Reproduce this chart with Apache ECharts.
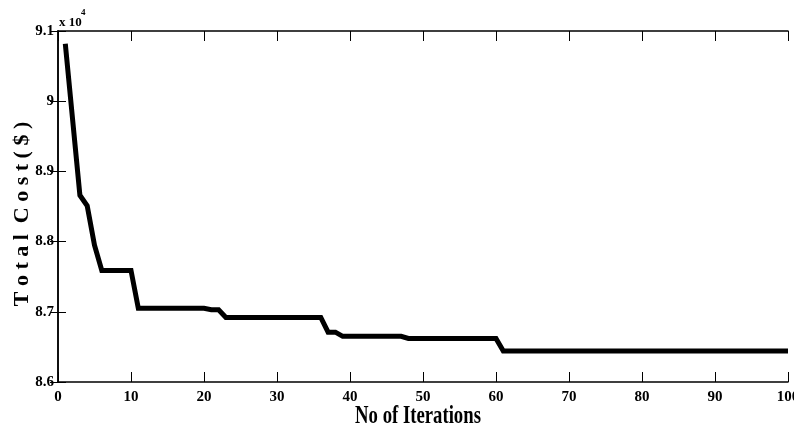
<!DOCTYPE html>
<html>
<head>
<meta charset="utf-8">
<script src="https://cdn.jsdelivr.net/npm/echarts@6/dist/echarts.min.js"></script>
<style>html,body{margin:0;padding:0;background:#fff;overflow:hidden}#c{width:794px;height:432px}</style>
</head>
<body>
<div id="c"></div>
<script>
// Iteration numbers and total cost (x 10^4 $)
var iterations = [];
for (var i = 1; i <= 100; i++) iterations.push(i);
var costValues = [
  9.082, 8.974, 8.866, 8.851, 8.795, 8.759, 8.759, 8.759, 8.759, 8.759,
  8.705, 8.705, 8.705, 8.705, 8.705, 8.705, 8.705, 8.705, 8.705, 8.705,
  8.703, 8.703, 8.692, 8.692, 8.692, 8.692, 8.692, 8.692, 8.692, 8.692,
  8.692, 8.692, 8.692, 8.692, 8.692, 8.692, 8.671, 8.671, 8.665, 8.665,
  8.665, 8.665, 8.665, 8.665, 8.665, 8.665, 8.665, 8.662, 8.662, 8.662,
  8.662, 8.662, 8.662, 8.662, 8.662, 8.662, 8.662, 8.662, 8.662, 8.662,
  8.644, 8.644, 8.644, 8.644, 8.644, 8.644, 8.644, 8.644, 8.644, 8.644,
  8.644, 8.644, 8.644, 8.644, 8.644, 8.644, 8.644, 8.644, 8.644, 8.644,
  8.644, 8.644, 8.644, 8.644, 8.644, 8.644, 8.644, 8.644, 8.644, 8.644,
  8.644, 8.644, 8.644, 8.644, 8.644, 8.644, 8.644, 8.644, 8.644, 8.644
];
var xTicks = [0, 10, 20, 30, 40, 50, 60, 70, 80, 90, 100];
var yTicks = [8.6, 8.7, 8.8, 8.9, 9, 9.1];
var xTitle = 'No of Iterations';
var yTitle = 'T o t a l  C o s t ( $ )';
var scaleText = 'x 10';
var scaleExp = '4';

var seriesData = iterations.map(function (x, k) { return [x, costValues[k]]; });

var FONT = 'Liberation Serif';
var axisLineStyle = { color: '#000', width: 1.5 };
var tickStyle = { color: '#000', width: 1 };

var chart = echarts.init(document.getElementById('c'), null, { renderer: 'canvas' });
chart.setOption({
  animation: false,
  backgroundColor: '#fff',
  grid: { left: 58, right: 6, top: 31, bottom: 50, containLabel: false, outerBoundsMode: 'none' },
  xAxis: [{
    type: 'value', position: 'bottom',
    min: xTicks[0], max: xTicks[xTicks.length - 1], interval: 10,
    axisLine: { show: true, lineStyle: axisLineStyle },
    axisTick: { show: true, inside: true, length: 10, lineStyle: tickStyle },
    splitLine: { show: false },
    axisLabel: { margin: 8, color: '#000', fontFamily: FONT, fontWeight: 'bold', fontSize: 15,
      formatter: function (v) { return String(v); } }
  }, {
    type: 'value', position: 'top',
    min: xTicks[0], max: xTicks[xTicks.length - 1], interval: 10,
    axisLine: { show: true, lineStyle: axisLineStyle },
    axisTick: { show: true, inside: true, length: 10, lineStyle: tickStyle },
    splitLine: { show: false },
    axisLabel: { show: false }
  }],
  yAxis: [{
    type: 'value', position: 'left',
    min: yTicks[0], max: yTicks[yTicks.length - 1], interval: 0.1,
    axisLine: { show: true, lineStyle: axisLineStyle },
    axisTick: { show: true, inside: true, length: 8, lineStyle: tickStyle },
    splitLine: { show: false },
    axisLabel: { margin: 4, color: '#000', fontFamily: FONT, fontWeight: 'bold', fontSize: 15,
      formatter: function (v) { return String(+v.toFixed(1)); } }
  }, {
    type: 'value', position: 'right',
    min: yTicks[0], max: yTicks[yTicks.length - 1], interval: 0.1,
    axisLine: { show: true, lineStyle: axisLineStyle },
    axisTick: { show: true, inside: true, length: 8, lineStyle: tickStyle },
    splitLine: { show: false },
    axisLabel: { show: false }
  }],
  series: [{
    type: 'line',
    xAxisIndex: 0, yAxisIndex: 0,
    data: seriesData,
    showSymbol: false,
    symbol: 'none',
    lineStyle: { color: '#000', width: 5, join: 'miter' },
    clip: true
  }],
  graphic: [
    { type: 'text', x: 418, y: 416, scaleX: 0.72,
      style: { text: xTitle, font: 'bold 26px "' + FONT + '"', fill: '#000', align: 'center', verticalAlign: 'middle' } },
    { type: 'text', x: 22, y: 214, rotation: Math.PI / 2,
      style: { text: yTitle, font: 'bold 22px "' + FONT + '"', fill: '#000', align: 'center', verticalAlign: 'middle' } },
    { type: 'text', x: 59, y: 23,
      style: { text: scaleText, font: 'bold 13px "' + FONT + '"', fill: '#000', align: 'left', verticalAlign: 'middle' } },
    { type: 'text', x: 81, y: 13,
      style: { text: scaleExp, font: 'bold 9px "' + FONT + '"', fill: '#000', align: 'left', verticalAlign: 'middle' } }
  ]
});
</script>
</body>
</html>
